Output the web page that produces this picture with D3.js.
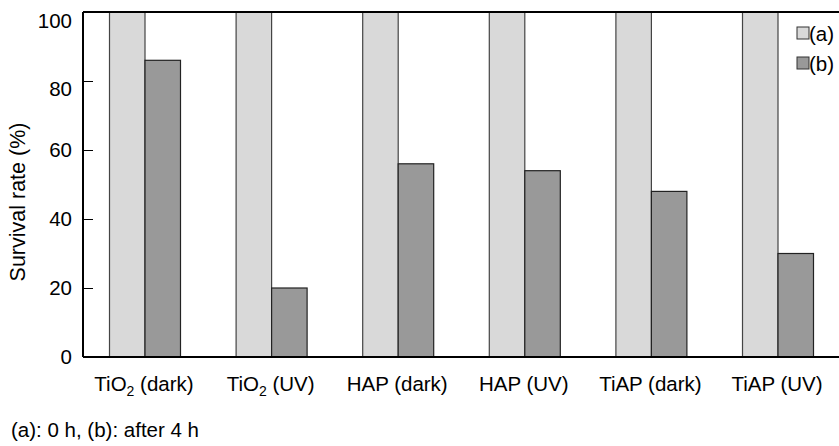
<!DOCTYPE html>
<html>
<head>
<meta charset="utf-8">
<script src="https://cdn.jsdelivr.net/npm/d3@7"></script>
<style>
  body { margin: 0; background: #fff; }
  text { font-family: "Liberation Sans", Arial, sans-serif; fill: #000; }
</style>
</head>
<body>
<script>
// categories and series
const categories = ["TiO2 (dark)", "TiO2 (UV)", "HAP (dark)", "HAP (UV)", "TiAP (dark)", "TiAP (UV)"];
const seriesNames = ["(a)", "(b)"];
const valuesA = [100, 100, 100, 100, 100, 100];
const valuesB = [86, 20, 56, 54, 48, 30];
const yTicks = [0, 20, 40, 60, 80, 100];
const footnote = "(a): 0 h, (b): after 4 h";

const svgW = 839, svgH = 446;
const plotLeft = 83, plotTop = 12, plotBottom = 357;
const bandW = 126.6;
const fs = "20.5px";

const colors = {"(a)": "#d9d9d9", "(b)": "#999999"};
const strokes = {"(a)": "#444", "(b)": "#222"};

var svg = d3.select("body")
  .append("svg")
  .attr("width", svgW)
  .attr("height", svgH);

var x = d3.scaleBand()
  .domain(categories)
  .range([plotLeft - 1.3, plotLeft - 1.3 + bandW * categories.length])
  .paddingInner(0)
  .paddingOuter(0);

var xSub = d3.scaleBand()
  .domain(seriesNames)
  .range([bandW / 2 - 35.5, bandW / 2 + 35.5]);

var y = d3.scaleLinear()
  .domain([0, 100])
  .range([plotBottom, plotTop]);

// bars
var rows = categories.map(function(c, i) {
  return {cat: c, vals: [{s: "(a)", v: valuesA[i]}, {s: "(b)", v: valuesB[i]}]};
});

var g = svg.selectAll("g.grp")
  .data(rows)
  .enter().append("g")
  .attr("class", "grp")
  .attr("transform", function(d) { return "translate(" + x(d.cat) + ",0)"; });

g.selectAll("rect")
  .data(function(d) { return d.vals; })
  .enter().append("rect")
  .attr("x", function(d) { return xSub(d.s); })
  .attr("y", function(d) { return y(d.v); })
  .attr("width", xSub.bandwidth())
  .attr("height", function(d) { return y(0) - y(d.v); })
  .attr("fill", function(d) { return colors[d.s]; })
  .attr("stroke", function(d) { return strokes[d.s]; })
  .attr("stroke-width", 1.2);

// frame: top and bottom lines run off the right edge
svg.append("line")
  .attr("x1", plotLeft).attr("x2", svgW)
  .attr("y1", plotTop).attr("y2", plotTop)
  .attr("stroke", "#000").attr("stroke-width", 2);
svg.append("line")
  .attr("x1", plotLeft).attr("x2", svgW)
  .attr("y1", plotBottom).attr("y2", plotBottom)
  .attr("stroke", "#000").attr("stroke-width", 2);

var yAxis = svg.append("g")
  .attr("transform", "translate(" + plotLeft + ",0)")
  .call(d3.axisRight(y).tickValues(yTicks).tickSize(10).tickPadding(0).tickFormat(function() { return ""; }));
yAxis.select(".domain").attr("stroke", "#000").attr("stroke-width", 2).attr("d", "M0," + plotTop + "V" + plotBottom);
yAxis.selectAll(".tick line").attr("stroke", "#000").attr("stroke-width", 1);

// y tick labels (top two sit a little below their ticks in the original)
function labelNudge(d) {
  if (d === 100) return 9;
  if (d === 80) return 8;
  return 0;
}
svg.selectAll("text.ylab")
  .data(yTicks)
  .enter().append("text")
  .attr("class", "ylab")
  .attr("x", 72)
  .attr("y", function(d) { return y(d) + 7 + labelNudge(d); })
  .attr("text-anchor", "end")
  .style("font-size", fs)
  .text(function(d) { return d; });

// x labels with subscript
var xl = svg.selectAll("text.xlab")
  .data(categories)
  .enter().append("text")
  .attr("class", "xlab")
  .attr("x", function(d) { return x(d) + bandW / 2 - 1; })
  .attr("y", 391)
  .attr("text-anchor", "middle")
  .style("font-size", fs);

xl.each(function(d) {
  var t = d3.select(this);
  var m = d.match(/^(TiO)(2)(.*)$/);
  if (m) {
    t.append("tspan").text(m[1]);
    t.append("tspan").attr("dy", 5).style("font-size", "14px").text(m[2]);
    t.append("tspan").attr("dy", -5).text(m[3]);
  } else {
    t.text(d);
  }
});

// y axis title
svg.append("text")
  .attr("transform", "translate(25,202) rotate(-90)")
  .attr("text-anchor", "middle")
  .style("font-size", "21.5px")
  .text("Survival rate (%)");

// legend
var leg = svg.selectAll("g.leg")
  .data(seriesNames)
  .enter().append("g")
  .attr("class", "leg")
  .attr("transform", function(d, i) { return "translate(797," + (27 + i * 30) + ")"; });
leg.append("rect")
  .attr("width", 12).attr("height", 12)
  .attr("fill", function(d) { return colors[d]; })
  .attr("stroke", "#333").attr("stroke-width", 1);
leg.append("text")
  .attr("x", 12).attr("y", 14)
  .style("font-size", fs)
  .text(function(d) { return d; });

// footnote
svg.append("text")
  .attr("x", 11).attr("y", 437)
  .style("font-size", fs)
  .text(footnote);
</script>
</body>
</html>
